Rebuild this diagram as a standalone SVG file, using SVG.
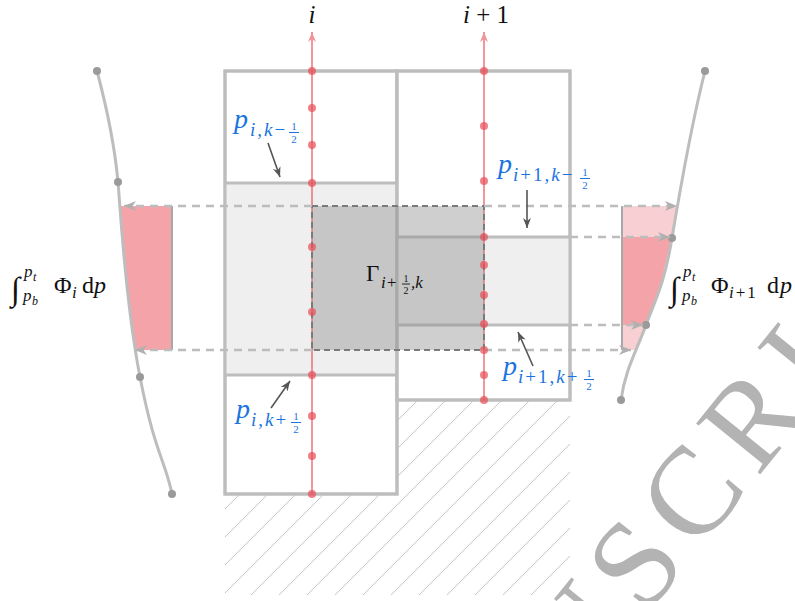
<svg xmlns="http://www.w3.org/2000/svg" width="795" height="601" viewBox="0 0 795 601">
<style>
.col{fill:#ffffff;stroke:#bdbdbd;stroke-width:3}
.cell{fill:#efefef}
.hl{stroke:#bdbdbd;stroke-width:3}
.rl{stroke:#e8505a;stroke-opacity:0.6;stroke-width:2}
.rd{fill:#e8505a;fill-opacity:0.72}
.dash{stroke:#bdbdbd;stroke-width:2.5;stroke-dasharray:8 6;fill:none}
.curve{fill:none;stroke:#bdbdbd;stroke-width:3}
.gd{fill:#9a9a9a}
.ptr{stroke:#555555;stroke-width:1.6}
.m{font-family:'Liberation Serif','Times New Roman','DejaVu Serif',serif;fill:#111111}
.b{fill:#1a74e0}
.it{font-style:italic}
.fb{stroke:#1a74e0;stroke-width:1}
.fk{stroke:#111111;stroke-width:0.9}
.pink{fill:#f4a3a8}
.pinkl{fill:#f8d0d3}
.edge{stroke:#a8a8a8;stroke-width:2}
</style>
<defs>
<pattern id="hatch" patternUnits="userSpaceOnUse" x="6" y="0" width="28" height="28">
<path d="M-7,35 L35,-7 M-7,7 L7,-7 M21,35 L35,21" stroke="#c6c6c6" stroke-width="1"/>
</pattern>
<marker id="ar-red" viewBox="0 0 10 8" refX="10" refY="4" markerWidth="10" markerHeight="8" markerUnits="userSpaceOnUse" orient="auto">
<path d="M0,0 L10,4 L0,8 L3,4 Z" fill="#f0969b"/>
</marker>
<marker id="ar-gray" viewBox="0 0 12 10" refX="12" refY="5" markerWidth="12" markerHeight="10" markerUnits="userSpaceOnUse" orient="auto">
<path d="M0,0 L12,5 L0,10 L3.5,5 Z" fill="#b0b0b0"/>
</marker>
<marker id="ar-dark" viewBox="0 0 10 8" refX="10" refY="4" markerWidth="10" markerHeight="8" markerUnits="userSpaceOnUse" orient="auto">
<path d="M0,0 L10,4 L0,8 L3,4 Z" fill="#555555"/>
</marker>
</defs>

<g id="ground">
<path d="M225,494 H397 V400 H570 V595 H225 Z" fill="url(#hatch)"/>
</g>

<g id="column-i">
<rect class="col" x="225" y="71" width="172" height="423"/>
<rect class="cell" x="225" y="183" width="172" height="192"/>
<line class="hl" x1="225" y1="183" x2="397" y2="183"/>
<line class="hl" x1="225" y1="375" x2="397" y2="375"/>
<rect x="225" y="71" width="172" height="423" fill="none" stroke="#bdbdbd" stroke-width="3"/>
</g>

<g id="column-i1">
<rect class="col" x="397" y="71" width="173" height="329"/>
<rect class="cell" x="397" y="237" width="173" height="88"/>
<line class="hl" x1="397" y1="237" x2="570" y2="237"/>
<line class="hl" x1="397" y1="325" x2="570" y2="325"/>
<rect x="397" y="71" width="173" height="329" fill="none" stroke="#bdbdbd" stroke-width="3"/>
</g>

<g id="flux-left">
<polygon class="pink" points="120,206 122,238 126,281 130,317 135,350 172,350 172,206"/>
<line class="edge" x1="172" y1="206" x2="172" y2="350"/>
</g>

<g id="flux-right">
<polygon class="pinkl" points="622,206 677,206 672,238 659,290 646,325 636,350 622,350"/>
<polygon class="pink" points="622,237 672,237 659,290 646,325 622,325"/>
<line class="edge" x1="622" y1="206" x2="622" y2="350"/>
</g>

<g id="profile-left">
<path class="curve" d="M97,71 C110,120 116,160 118,182 S125,300 140,377 S165,460 172,494"/>
<circle class="gd" cx="97" cy="71" r="4"/>
<circle class="gd" cx="118" cy="182" r="4"/>
<circle class="gd" cx="140" cy="377" r="4"/>
<circle class="gd" cx="172" cy="494" r="4"/>
</g>

<g id="profile-right">
<path class="curve" d="M705,71 C690,130 680,190 672,238 S655,300 646,325 S625,370 621,400"/>
<circle class="gd" cx="705" cy="71" r="4"/>
<circle class="gd" cx="672" cy="238" r="4"/>
<circle class="gd" cx="646" cy="325" r="4"/>
<circle class="gd" cx="621" cy="400" r="4"/>
</g>

<g id="axis-i">
<line class="rl" x1="312" y1="494" x2="312" y2="32" marker-end="url(#ar-red)"/>
</g>
<g id="axis-i1">
<line class="rl" x1="484" y1="400" x2="484" y2="32" marker-end="url(#ar-red)"/>
</g>

<g id="gamma-box">
<rect x="312" y="206" width="172" height="144" fill="#8c8c8c" fill-opacity="0.42" stroke="#7a7a7a" stroke-width="2" stroke-dasharray="6 4"/>
</g>

<g id="connectors">
<path class="dash" d="M312,206 H124" marker-end="url(#ar-gray)"/>
<path class="dash" d="M312,350 H135" marker-end="url(#ar-gray)"/>
<path class="dash" d="M484,206 H677" marker-end="url(#ar-gray)"/>
<path class="dash" d="M570,237 H670" marker-end="url(#ar-gray)"/>
<path class="dash" d="M570,325 H643" marker-end="url(#ar-gray)"/>
<path class="dash" d="M484,350 H631" marker-end="url(#ar-gray)"/>
<line class="ptr" x1="268" y1="143" x2="280" y2="177" marker-end="url(#ar-dark)"/>
<line class="ptr" x1="527" y1="190" x2="527" y2="228" marker-end="url(#ar-dark)"/>
<line class="ptr" x1="271" y1="408" x2="290" y2="381" marker-end="url(#ar-dark)"/>
<line class="ptr" x1="533" y1="366" x2="518" y2="332" marker-end="url(#ar-dark)"/>
</g>

<g id="points-i">
<circle class="rd" cx="312" cy="71" r="4"/>
<circle class="rd" cx="312" cy="108" r="4"/>
<circle class="rd" cx="312" cy="145" r="4"/>
<circle class="rd" cx="312" cy="183" r="4"/>
<circle class="rd" cx="312" cy="247" r="4"/>
<circle class="rd" cx="312" cy="312" r="4"/>
<circle class="rd" cx="312" cy="375" r="4"/>
<circle class="rd" cx="312" cy="416" r="4"/>
<circle class="rd" cx="312" cy="456" r="4"/>
<circle class="rd" cx="312" cy="494" r="4"/>
</g>
<g id="points-i1">
<circle class="rd" cx="484" cy="71" r="4"/>
<circle class="rd" cx="484" cy="126" r="4"/>
<circle class="rd" cx="484" cy="181" r="4"/>
<circle class="rd" cx="484" cy="237" r="4"/>
<circle class="rd" cx="484" cy="265" r="4"/>
<circle class="rd" cx="484" cy="295" r="4"/>
<circle class="rd" cx="484" cy="324" r="4"/>
<circle class="rd" cx="484" cy="350" r="4"/>
<circle class="rd" cx="484" cy="375" r="4"/>
<circle class="rd" cx="484" cy="400" r="4"/>
</g>

<g id="label-i">
<text class="m it" x="312" y="23" font-size="25" text-anchor="middle">i</text>
</g>
<g id="label-i1">
<text class="m" x="486" y="23" font-size="25" text-anchor="middle"><tspan class="it">i</tspan> + 1</text>
</g>

<g id="label-gamma">
<text class="m"><tspan x="366" y="281" font-size="23">Γ</tspan><tspan class="it" x="381" y="288" font-size="17">i+</tspan><tspan x="411" y="288" font-size="17" class="it">,k</tspan></text>
<text class="m" x="406" y="281.5" font-size="10" text-anchor="middle">1</text>
<line class="fk" x1="402" y1="284" x2="410" y2="284"/>
<text class="m" x="406" y="294" font-size="10" text-anchor="middle">2</text>
</g>

<g id="label-p-i-kminus">
<text class="m b"><tspan class="it" x="234" y="128" font-size="28">p</tspan><tspan x="250" y="136" font-size="19" letter-spacing="2"><tspan class="it">i</tspan>,<tspan class="it">k</tspan>−</tspan></text>
<text class="m b" x="294" y="130" font-size="11" text-anchor="middle">1</text>
<line class="fb" x1="289" y1="132.5" x2="299" y2="132.5"/>
<text class="m b" x="294" y="143" font-size="11" text-anchor="middle">2</text>
</g>

<g id="label-p-i1-kminus">
<text class="m b"><tspan class="it" x="498" y="173" font-size="28">p</tspan><tspan x="513" y="181" font-size="19" letter-spacing="2"><tspan class="it">i</tspan>+1,<tspan class="it">k</tspan>−</tspan></text>
<text class="m b" x="585" y="176" font-size="11" text-anchor="middle">1</text>
<line class="fb" x1="580" y1="178.5" x2="590" y2="178.5"/>
<text class="m b" x="585" y="189" font-size="11" text-anchor="middle">2</text>
</g>

<g id="label-p-i-kplus">
<text class="m b"><tspan class="it" x="236" y="418" font-size="28">p</tspan><tspan x="251" y="426" font-size="19" letter-spacing="2"><tspan class="it">i</tspan>,<tspan class="it">k</tspan>+</tspan></text>
<text class="m b" x="296" y="420" font-size="11" text-anchor="middle">1</text>
<line class="fb" x1="291" y1="422.5" x2="301" y2="422.5"/>
<text class="m b" x="296" y="433" font-size="11" text-anchor="middle">2</text>
</g>

<g id="label-p-i1-kplus">
<text class="m b"><tspan class="it" x="503" y="375" font-size="28">p</tspan><tspan x="518" y="383" font-size="19" letter-spacing="2"><tspan class="it">i</tspan>+1,<tspan class="it">k</tspan>+</tspan></text>
<text class="m b" x="589" y="377" font-size="11" text-anchor="middle">1</text>
<line class="fb" x1="584" y1="379.5" x2="594" y2="379.5"/>
<text class="m b" x="589" y="390" font-size="11" text-anchor="middle">2</text>
</g>

<g id="label-integral-i">
<text class="m"><tspan x="11" y="300" font-size="33">∫</tspan><tspan class="it" x="24" y="277" font-size="17">p</tspan><tspan class="it" x="33" y="281" font-size="12">t</tspan><tspan class="it" x="23" y="301" font-size="17">p</tspan><tspan class="it" x="32" y="305" font-size="12">b</tspan><tspan x="54" y="293" font-size="24">Φ</tspan><tspan class="it" x="72" y="298" font-size="17">i</tspan><tspan x="82" y="293" font-size="24">d</tspan><tspan class="it" x="94" y="293" font-size="24">p</tspan></text>
</g>

<g id="label-integral-i1">
<text class="m"><tspan x="670" y="300" font-size="33">∫</tspan><tspan class="it" x="683" y="277" font-size="17">p</tspan><tspan class="it" x="692" y="281" font-size="12">t</tspan><tspan class="it" x="682" y="301" font-size="17">p</tspan><tspan class="it" x="691" y="305" font-size="12">b</tspan><tspan x="711" y="293" font-size="24">Φ</tspan><tspan x="729" y="298" font-size="17" letter-spacing="2"><tspan class="it">i</tspan>+1</tspan><tspan x="767" y="293" font-size="24">d</tspan><tspan class="it" x="780" y="293" font-size="24">p</tspan></text>
</g>

<g id="watermark">
<text class="m" x="0" y="0" transform="translate(580,697) rotate(-51)" font-size="125" letter-spacing="13" style="fill:#b3b3b3">USCRI</text>
</g>
</svg>
